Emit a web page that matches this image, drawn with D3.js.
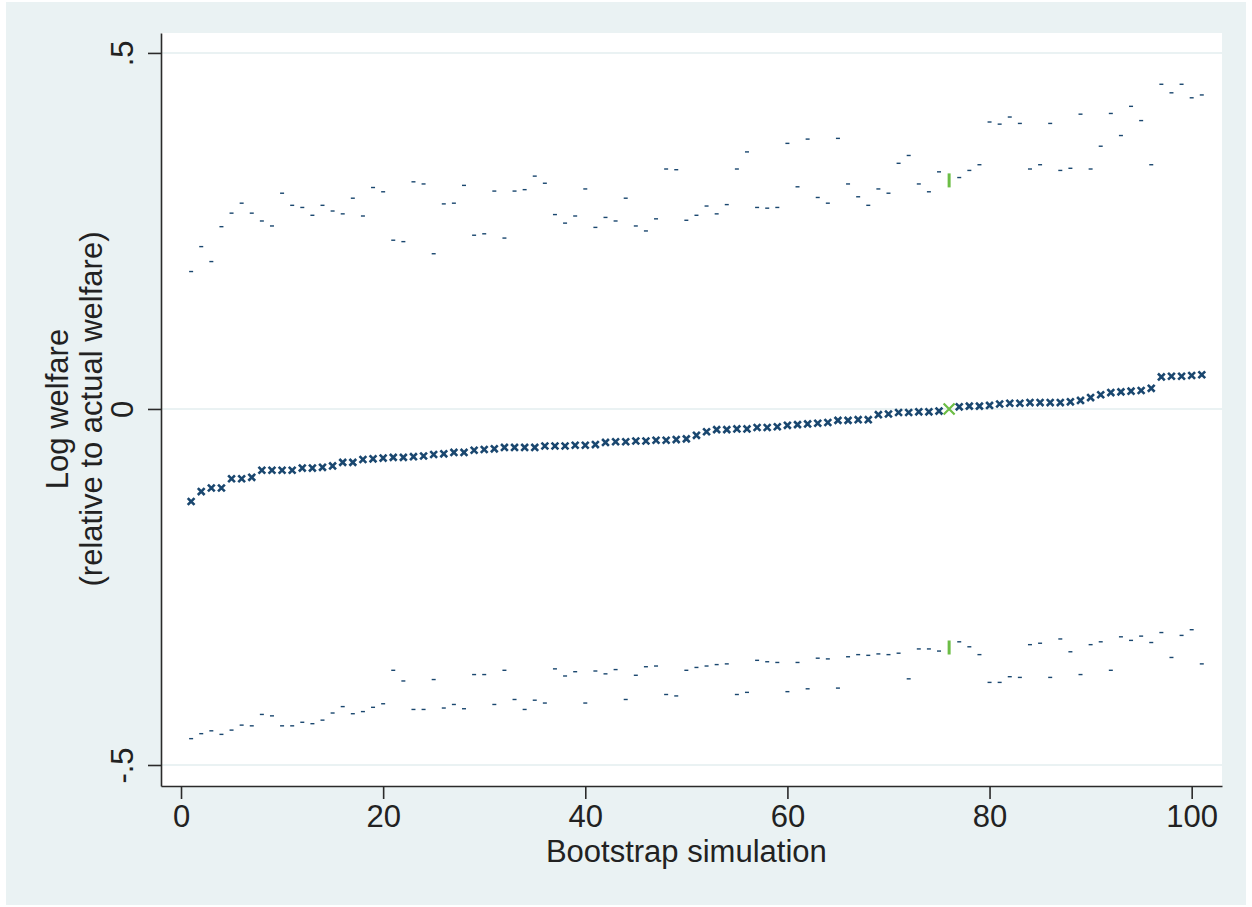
<!DOCTYPE html>
<html>
<head>
<meta charset="utf-8">
<script src="https://cdn.jsdelivr.net/npm/d3@7"></script>
<style>
  body { margin: 0; background: #ffffff; }
  text { font-family: "Liberation Sans", Arial, sans-serif; fill: #222222; }
</style>
</head>
<body>
<div id="chart"></div>
<script>
// Bootstrap simulation number (x) and the three series
var sims = d3.range(1, 102);

var estimate = [
  -0.130, -0.116, -0.111, -0.111, -0.098, -0.098, -0.096, -0.086, -0.086, -0.086,
  -0.086, -0.083, -0.083, -0.082, -0.080, -0.075, -0.075, -0.071, -0.070, -0.069,
  -0.068, -0.068, -0.067, -0.066, -0.064, -0.063, -0.061, -0.061, -0.058, -0.057,
  -0.056, -0.054, -0.054, -0.054, -0.054, -0.052, -0.052, -0.052, -0.051, -0.051,
  -0.050, -0.047, -0.046, -0.046, -0.045, -0.045, -0.044, -0.044, -0.043, -0.042,
  -0.037, -0.032, -0.029, -0.029, -0.028, -0.028, -0.026, -0.026, -0.025, -0.023,
  -0.022, -0.021, -0.020, -0.019, -0.016, -0.016, -0.015, -0.015, -0.008, -0.007,
  -0.005, -0.005, -0.004, -0.004, -0.003, 0.000, 0.003, 0.004, 0.004, 0.005,
  0.007, 0.008, 0.008, 0.009, 0.009, 0.009, 0.009, 0.010, 0.012, 0.016,
  0.020, 0.023, 0.024, 0.025, 0.026, 0.029, 0.045, 0.046, 0.046, 0.047,
  0.048
];

var upper = [
  0.193, 0.228, 0.207, 0.256, 0.275, 0.289, 0.275, 0.264, 0.257, 0.303,
  0.286, 0.283, 0.272, 0.286, 0.278, 0.274, 0.296, 0.271, 0.311, 0.305,
  0.237, 0.235, 0.319, 0.316, 0.218, 0.288, 0.289, 0.314, 0.244, 0.246,
  0.306, 0.240, 0.306, 0.308, 0.327, 0.317, 0.273, 0.261, 0.271, 0.309,
  0.255, 0.269, 0.264, 0.296, 0.257, 0.250, 0.267, 0.337, 0.336, 0.265,
  0.272, 0.285, 0.274, 0.287, 0.337, 0.361, 0.283, 0.282, 0.283, 0.373,
  0.312, 0.379, 0.297, 0.289, 0.380, 0.316, 0.298, 0.286, 0.309, 0.303,
  0.345, 0.356, 0.316, 0.305, 0.333, 0.321, 0.325, 0.335, 0.343, 0.403,
  0.400, 0.410, 0.401, 0.337, 0.343, 0.401, 0.335, 0.338, 0.414, 0.337,
  0.369, 0.415, 0.384, 0.425, 0.405, 0.343, 0.456, 0.444, 0.456, 0.437,
  0.441
];

var lower = [
  -0.463, -0.456, -0.452, -0.457, -0.451, -0.444, -0.445, -0.429, -0.431, -0.445,
  -0.445, -0.440, -0.442, -0.437, -0.427, -0.418, -0.428, -0.425, -0.419, -0.414,
  -0.367, -0.382, -0.422, -0.422, -0.380, -0.420, -0.415, -0.421, -0.373, -0.373,
  -0.415, -0.367, -0.408, -0.422, -0.409, -0.413, -0.365, -0.375, -0.369, -0.413,
  -0.368, -0.372, -0.366, -0.408, -0.374, -0.362, -0.361, -0.401, -0.403, -0.367,
  -0.363, -0.361, -0.359, -0.358, -0.401, -0.398, -0.353, -0.355, -0.356, -0.397,
  -0.356, -0.393, -0.350, -0.351, -0.392, -0.348, -0.345, -0.346, -0.344, -0.345,
  -0.343, -0.379, -0.337, -0.337, -0.340, -0.335, -0.327, -0.334, -0.345, -0.384,
  -0.384, -0.376, -0.377, -0.331, -0.329, -0.377, -0.323, -0.341, -0.373, -0.331,
  -0.327, -0.367, -0.320, -0.325, -0.319, -0.328, -0.314, -0.349, -0.318, -0.310,
  -0.358
];

// the simulation that matches the actual data (highlighted in green)
var actualSim = 76;

var xTicks = [0, 20, 40, 60, 80, 100];
var yTicks = [-0.5, 0, 0.5];
var yTickLabels = ["-.5", "0", ".5"];

// SVG area
var svgWidth = 1252;
var svgHeight = 907;

var margin = { top: 33, right: 30, bottom: 121, left: 161 };
var chartWidth = 1222 - margin.left;
var chartHeight = 786 - margin.top;

var blue = "#1a476f";
var green = "#6cbd45";

var svg = d3.select("#chart")
  .append("svg")
  .attr("width", svgWidth)
  .attr("height", svgHeight);

// outer (graph region) background
svg.append("rect")
  .attr("x", 6).attr("y", 2)
  .attr("width", 1240).attr("height", 903)
  .attr("fill", "#eaf2f3");

var chartGroup = svg.append("g")
  .attr("transform", `translate(${margin.left}, ${margin.top})`);

chartGroup.append("rect")
  .attr("width", chartWidth)
  .attr("height", chartHeight)
  .attr("fill", "#ffffff");

var xScale = d3.scaleLinear()
  .domain([-1.98, 103.0])
  .range([0, chartWidth]);

var yScale = d3.scaleLinear()
  .domain([-0.5295, 0.528])
  .range([chartHeight, 0]);

// grid lines
chartGroup.selectAll(".grid")
  .data(yTicks)
  .enter()
  .append("line")
  .attr("x1", 0)
  .attr("x2", chartWidth)
  .attr("y1", d => yScale(d))
  .attr("y2", d => yScale(d))
  .attr("stroke", "#eaf2f3")
  .attr("stroke-width", 2);

// axes
var bottomAxis = d3.axisBottom(xScale)
  .tickValues(xTicks)
  .tickSize(13)
  .tickPadding(6)
  .tickSizeOuter(0);

var leftAxis = d3.axisLeft(yScale)
  .tickValues(yTicks)
  .tickFormat((d, i) => yTickLabels[i])
  .tickSize(13)
  .tickSizeOuter(0);

var xAxisG = chartGroup.append("g")
  .attr("transform", `translate(0, ${chartHeight})`)
  .call(bottomAxis);

var yAxisG = chartGroup.append("g")
  .call(leftAxis);

[xAxisG, yAxisG].forEach(function(g) {
  g.select(".domain").attr("stroke", "#2a2a2a").attr("stroke-width", 1.6);
  g.selectAll(".tick line").attr("stroke", "#2a2a2a").attr("stroke-width", 1.6);
  g.selectAll(".tick text")
    .attr("font-family", "Liberation Sans, Arial, sans-serif")
    .attr("font-size", "31px")
    .attr("fill", "#222222");
});

// rotated y tick labels
yAxisG.selectAll(".tick text")
  .attr("x", null)
  .attr("dy", null)
  .attr("text-anchor", "middle")
  .attr("transform", "translate(-28, 0) rotate(-90)");

// lower and upper bounds: tiny dashes
function drawDashes(values, cls) {
  chartGroup.selectAll("." + cls)
    .data(values)
    .enter()
    .append("rect")
    .attr("class", cls)
    .attr("x", (d, i) => xScale(sims[i]) - 2)
    .attr("y", d => yScale(d) - 0.7)
    .attr("width", 4)
    .attr("height", 1.4)
    .attr("fill", (d, i) => sims[i] === actualSim ? "none" : blue);
}
drawDashes(upper, "upper");
drawDashes(lower, "lower");

// green spikes for the actual simulation
[upper, lower].forEach(function(series) {
  var i = sims.indexOf(actualSim);
  chartGroup.append("rect")
    .attr("x", xScale(actualSim) - 1.5)
    .attr("y", yScale(series[i]) - 7)
    .attr("width", 3)
    .attr("height", 14)
    .attr("fill", green);
});

// point estimates as x markers
var xPath = function(s) {
  return `M${-s},${-s}L${s},${s}M${-s},${s}L${s},${-s}`;
};

chartGroup.selectAll(".est")
  .data(estimate)
  .enter()
  .append("path")
  .attr("class", "est")
  .attr("transform", (d, i) => `translate(${xScale(sims[i])}, ${yScale(d)})`)
  .attr("d", (d, i) => sims[i] === actualSim ? xPath(5.5) : xPath(3.4))
  .attr("fill", "none")
  .attr("stroke", (d, i) => sims[i] === actualSim ? green : blue)
  .attr("stroke-width", (d, i) => sims[i] === actualSim ? 2.2 : 2.6);

// axis titles
svg.append("text")
  .attr("x", margin.left + xScale(50))
  .attr("y", 862)
  .attr("text-anchor", "middle")
  .attr("font-size", "31px")
  .text("Bootstrap simulation");

svg.append("text")
  .attr("transform", "translate(68, 409) rotate(-90)")
  .attr("text-anchor", "middle")
  .attr("font-size", "31px")
  .text("Log welfare");

svg.append("text")
  .attr("transform", "translate(102, 409) rotate(-90)")
  .attr("text-anchor", "middle")
  .attr("font-size", "31px")
  .text("(relative to actual welfare)");
</script>
</body>
</html>
